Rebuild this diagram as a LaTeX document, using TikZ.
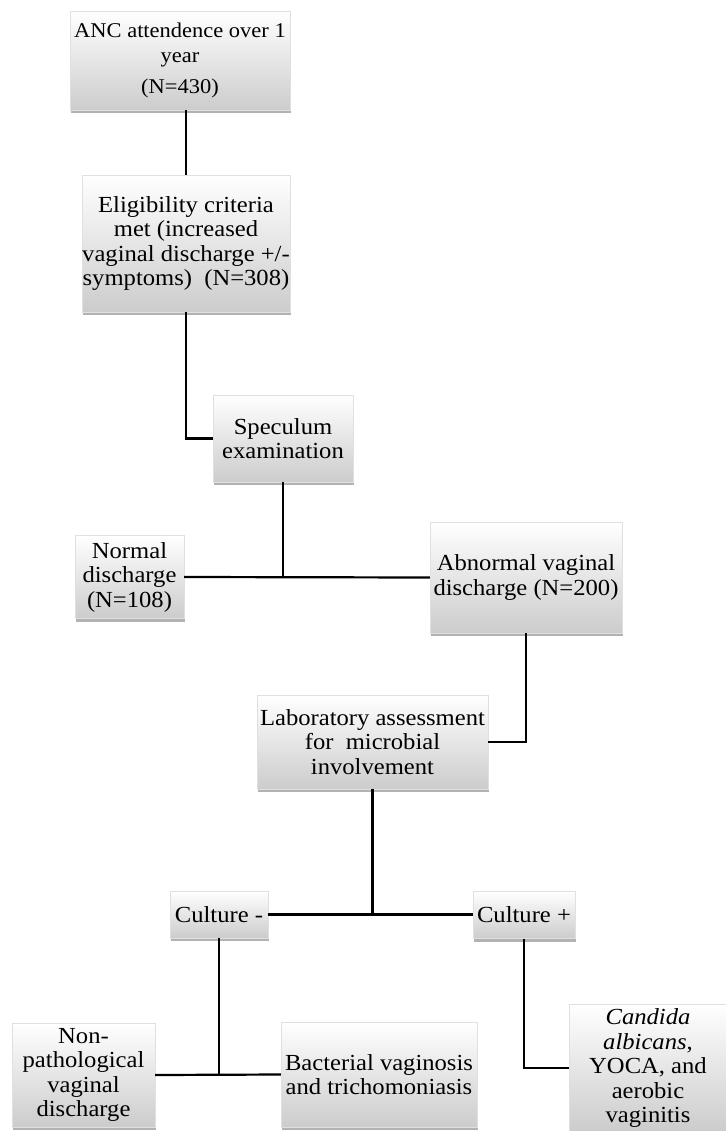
\documentclass[tikz,border=0pt]{standalone}
\usepackage{fontspec}
\setmainfont{Liberation Serif}[FakeStretch=1.07]
\usepackage{tikz}
\usetikzlibrary{shadows}

\begin{document}
\begin{tikzpicture}[x=1pt,y=-1pt,
        box/.style={rectangle, draw=black!12, line width=0.4pt,
            top color=white, middle color=white, bottom color=black!20,
            drop shadow={opacity=0.5, fill=black!60, shadow xshift=1pt, shadow yshift=-3pt},
            align=center, inner sep=0pt, font=\fontsize{23}{24.5}\selectfont},
        link/.style={line width=2.2pt}]
    \useasboundingbox (0,0) rectangle (725,1131);

    % boxes, top to bottom
    \node[box, font=\fontsize{21}{24.5}\selectfont, minimum width=220pt, minimum height=99pt] (anc) at (180,60.5) {ANC attendence over 1\\ year\\[7pt] (N=430)};
    \node[box, minimum width=202pt, minimum height=137pt] (elig) at (186,243.5) {Eligibility criteria\\ met (increased\\ vaginal discharge +/-\\ symptoms)\ \ (N=308)};
    \node[box, minimum width=140pt, minimum height=87pt] (spec) at (283,438.5) {Speculum\\ examination};
    \node[box, minimum width=109pt, minimum height=83pt] (normal) at (129.5,577) {Normal\\ discharge\\ (N=108)};
    \node[box, minimum width=192pt, minimum height=111pt] (abnormal) at (526,577.5) {Abnormal vaginal\\ discharge (N=200)};
    \node[box, minimum width=231pt, minimum height=94pt] (lab) at (372.5,742) {Laboratory assessment\\ for\ \ microbial\\ involvement};
    \node[box, minimum width=98pt, minimum height=47pt] (culneg) at (219,914.5) {Culture -};
    \node[box, minimum width=102pt, minimum height=47pt] (culpos) at (524,915) {Culture +};
    \node[box, minimum width=143pt, minimum height=104pt] (nonpath) at (83.5,1075) {Non-\\ pathological\\ vaginal\\ discharge};
    \node[box, minimum width=196pt, minimum height=105pt] (bact) at (379,1074.5) {Bacterial vaginosis\\ and trichomoniasis};
    \node[box, minimum width=158pt, minimum height=128pt] (cand) at (648,1068) {\textit{Candida}\\ \textit{albicans},\\ YOCA, and\\ aerobic\\ vaginitis};

    % connectors
    \draw[link] (anc.south -| elig.north) -- (elig.north);
    \draw[link] (elig.south) |- (spec.west);
    \draw[link] (normal.east) -- (abnormal.west);
    \draw[link] (spec.south) -- (spec.south |- normal.east);
    \draw[link] (abnormal.south) |- (lab.east);
    \draw[link] (culneg.east) -- (culneg.east -| culpos.west);
    \draw[link] (lab.south) -- (lab.south |- culneg.east);
    \draw[link] (nonpath.east) -- (bact.west);
    \draw[link] (culneg.south) -- (culneg.south |- nonpath.east);
    \draw[link] (culpos.south) |- (cand.west);
\end{tikzpicture}
\end{document}
